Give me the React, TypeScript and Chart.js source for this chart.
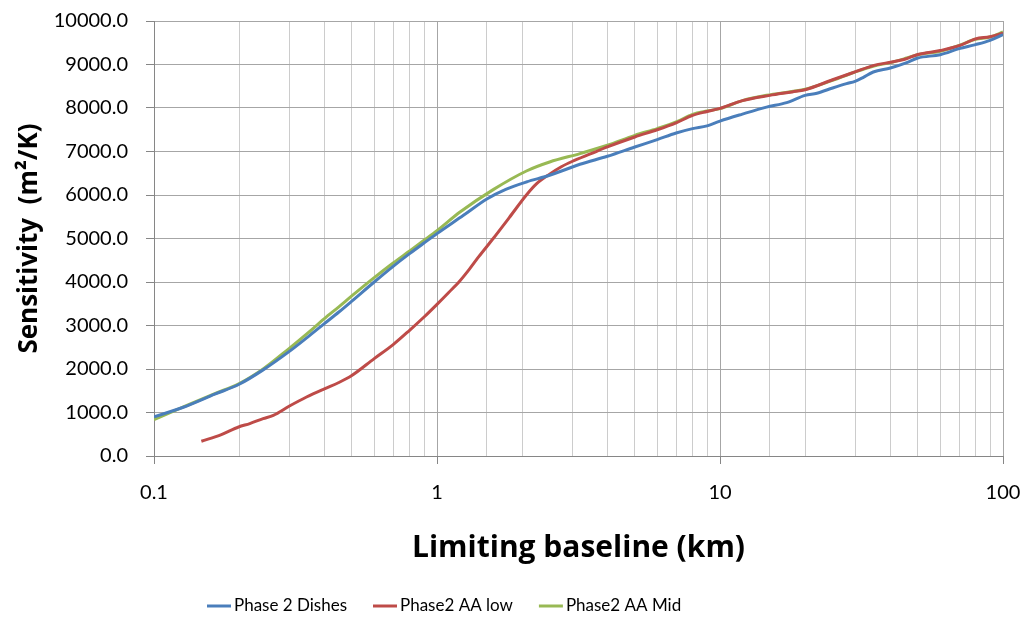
import React, { useEffect, useRef } from "react";
import { Chart, registerables } from "chart.js";

Chart.register(...registerables);

const dishesX = [0.1, 0.127, 0.164, 0.2, 0.243, 0.3, 0.35, 0.4, 0.45, 0.5, 0.6, 0.7, 0.8, 0.9, 1.0, 1.24, 1.5, 1.75, 2.07, 2.5, 3.2, 4, 5, 6, 7, 8, 9, 10, 12, 14.6, 17.2, 20, 22, 25, 28, 30, 32, 34.8, 40, 45.7, 50, 60, 70, 80, 90, 100];
const dishesY = [900, 1120, 1420, 1650, 1980, 2400, 2740, 3044, 3310, 3560, 4000, 4360, 4652, 4897, 5112, 5533, 5910, 6130, 6300, 6453, 6706, 6890, 7103, 7273, 7425, 7526, 7590, 7700, 7860, 8020, 8124, 8290, 8340, 8460, 8560, 8614, 8700, 8828, 8920, 9044, 9149, 9226, 9364, 9457, 9556, 9687];

const lowX = [0.147, 0.173, 0.199, 0.218, 0.243, 0.264, 0.3, 0.346, 0.4, 0.45, 0.5, 0.6, 0.7, 0.8, 0.9, 1.0, 1.1, 1.206, 1.3, 1.4, 1.58, 1.8, 2.07, 2.25, 2.5, 2.75, 3.0, 3.5, 4, 5, 6, 7, 8, 9, 10, 12, 15, 18, 20, 25, 30, 35, 40, 45, 50, 60, 70, 80, 90, 100];
const lowY = [338, 491, 667, 745, 859, 935, 1143, 1356, 1545, 1690, 1850, 2239, 2561, 2890, 3196, 3487, 3760, 4030, 4290, 4570, 5000, 5480, 6000, 6260, 6480, 6650, 6770, 6950, 7105, 7334, 7500, 7660, 7830, 7920, 7990, 8170, 8290, 8370, 8420, 8650, 8830, 8980, 9050, 9120, 9230, 9320, 9430, 9590, 9640, 9720];

const midX = [0.1, 0.127, 0.164, 0.2, 0.243, 0.3, 0.35, 0.4, 0.45, 0.5, 0.6, 0.7, 0.8, 0.9, 1, 1.206, 1.58, 2.07, 2.5, 3.2, 4, 5, 6, 7, 8, 9, 10, 12, 14.6, 18.2, 20, 25, 30, 35, 40, 45.7, 50, 60, 70, 80, 90, 100];
const midY = [836, 1127, 1434, 1664, 2000, 2470, 2830, 3159, 3430, 3680, 4100, 4437, 4713, 4958, 5180, 5609, 6124, 6552, 6759, 6952, 7143, 7372, 7526, 7678, 7855, 7931, 7986, 8170, 8292, 8384, 8430, 8637, 8828, 8966, 9044, 9149, 9226, 9303, 9441, 9579, 9632, 9747];

const seriesNames = ["Phase 2 Dishes", "Phase2 AA low", "Phase2 AA Mid"];
const seriesColors = ["#4A7EBB", "#BE4B48", "#98B954"];
const xTickLabels = [0.1, 1, 10, 100];
const yTitle = "Sensitivity  (m\u00B2/K)";
const xTitle = "Limiting baseline (km)";

const FONT = "Lato, 'Open Sans', sans-serif";
const TITLE_FONT = "'Open Sans', Lato, sans-serif";

function toPoints(xs: number[], ys: number[]) {
  return xs.map((x, i) => ({ x, y: ys[i] }));
}

const isDecade = (v: number) => Math.abs(Math.log10(v) - Math.round(Math.log10(v))) < 1e-6;

const legendPlugin = {
  id: "customLegend",
  afterDraw(chart: any) {
    const ctx = chart.ctx;
    ctx.save();
    ctx.font = `17px ${FONT}`;
    ctx.textBaseline = "middle";
    ctx.textAlign = "left";
    const y = 606;
    let x = 207;
    chart.data.datasets.forEach((ds: any) => {
      ctx.strokeStyle = ds.borderColor;
      ctx.lineWidth = 3;
      ctx.beginPath();
      ctx.moveTo(x, y);
      ctx.lineTo(x + 24, y);
      ctx.stroke();
      x += 27;
      ctx.fillStyle = "#000";
      ctx.fillText(ds.label, x, y);
      x += ctx.measureText(ds.label).width + 26;
    });
    ctx.restore();
  },
};

export default function App() {
  const canvasRef = useRef<HTMLCanvasElement | null>(null);

  useEffect(() => {
    document.body.style.margin = "0";
    const canvas = canvasRef.current;
    if (!canvas) return;
    const datasets = [
      toPoints(dishesX, dishesY),
      toPoints(lowX, lowY),
      toPoints(midX, midY),
    ].map((data, i) => ({
      label: seriesNames[i],
      data,
      borderColor: seriesColors[i],
      backgroundColor: seriesColors[i],
      borderWidth: 3,
      pointRadius: 0,
      cubicInterpolationMode: "monotone" as const,
    }));

    const chart = new Chart(canvas, {
      type: "line",
      data: { datasets },
      plugins: [legendPlugin],
      options: {
        responsive: false,
        animation: false,
        devicePixelRatio: 1,
        layout: { padding: { top: 21, right: 25, left: 0, bottom: 0 } },
        plugins: {
          legend: { display: false },
          tooltip: { enabled: false },
        },
        scales: {
          x: {
            type: "logarithmic",
            min: 0.1,
            max: 100,
            afterFit: (scale: any) => {
              scale.height = 162;
              scale.paddingLeft = 0;
              scale.paddingRight = 0;
            },
            border: { color: "#868686", width: 1 },
            grid: {
              color: (ctx: any) => (ctx.tick && isDecade(ctx.tick.value) ? "#a6a6a6" : "#cccccc"),
              tickColor: (ctx: any) => (ctx.tick && isDecade(ctx.tick.value) ? "#868686" : "rgba(0,0,0,0)"),
              tickLength: 8,
            },
            ticks: {
              autoSkip: false,
              maxRotation: 0,
              padding: 17,
              color: "#000",
              font: { family: FONT, size: 20 },
              callback: (v: any) => {
                const n = Number(v);
                const hit = xTickLabels.find((t) => Math.abs(t - n) < 1e-9);
                return hit !== undefined ? String(hit) : "";
              },
            },
            title: {
              display: true,
              text: xTitle,
              color: "#000",
              font: { family: TITLE_FONT, size: 30, weight: "bold" },
              padding: { top: 0, bottom: 52 },
            },
          },
          y: {
            type: "linear",
            min: 0,
            max: 10000,
            afterFit: (scale: any) => {
              scale.width = 154;
              scale.paddingTop = 0;
              scale.paddingBottom = 0;
            },
            border: { color: "#868686", width: 1 },
            grid: { color: "#a6a6a6", tickColor: "#868686", tickLength: 8 },
            ticks: {
              stepSize: 1000,
              padding: 18,
              color: "#000",
              font: { family: FONT, size: 20 },
              callback: (v: any) => Number(v).toFixed(1),
            },
            title: {
              display: true,
              text: yTitle,
              color: "#000",
              font: { family: TITLE_FONT, size: 26, weight: "bold" },
              padding: { top: 14, bottom: 0 },
            },
          },
        },
      },
    });
    return () => chart.destroy();
  }, []);

  return (
    <div style={{ width: 1028, height: 618 }}>
      <canvas ref={canvasRef} width={1028} height={618} style={{ display: "block" }} />
    </div>
  );
}
